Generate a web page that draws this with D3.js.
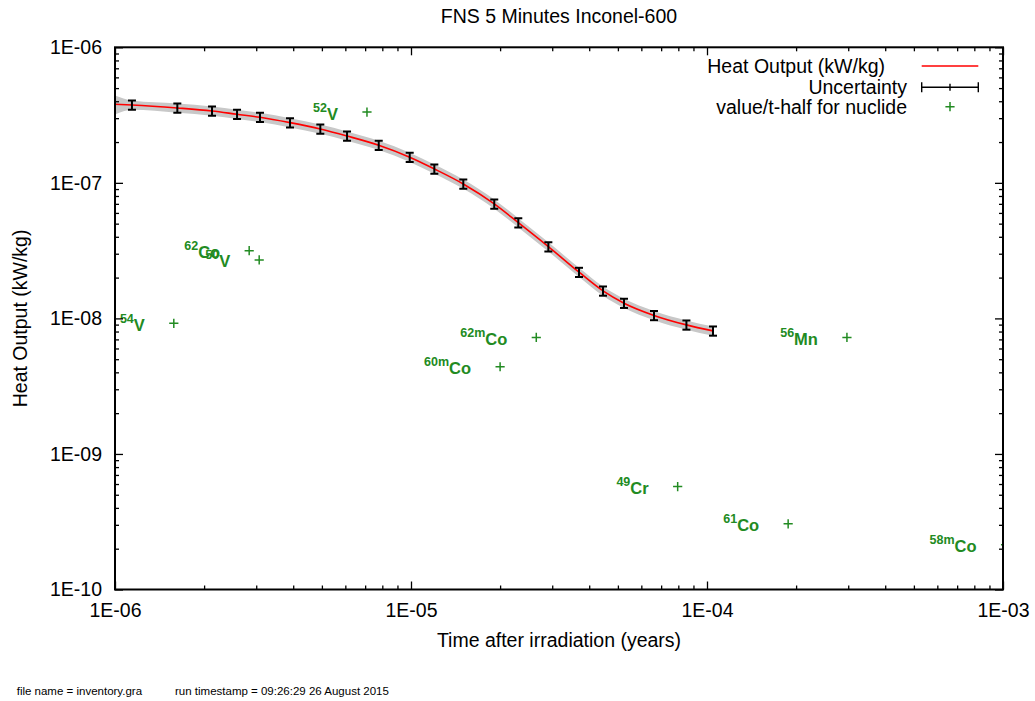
<!DOCTYPE html>
<html>
<head>
<meta charset="utf-8">
<script src="https://cdn.jsdelivr.net/npm/d3@7"></script>
<style>
  html, body { margin: 0; padding: 0; background: #fff; }
  svg { display: block; font-family: "Liberation Sans", Arial, Helvetica, sans-serif; }
</style>
</head>
<body>
<svg id="chart" width="1035" height="701"></svg>
<script>
// ---- data ----
const times = [1.0e-6, 1.141e-6, 1.624e-6, 2.127e-6, 2.584e-6, 3.089e-6, 3.902e-6, 4.939e-6, 6.08e-6, 7.78e-6, 9.9e-6,
               1.199e-5, 1.502e-5, 1.911e-5, 2.304e-5, 2.911e-5, 3.695e-5, 4.453e-5, 5.244e-5, 6.62e-5, 8.52e-5, 1.048e-4];
const heat = [3.80e-7, 3.754e-7, 3.568e-7, 3.39e-7, 3.206e-7, 3.046e-7, 2.78e-7, 2.497e-7, 2.217e-7, 1.894e-7, 1.545e-7,
              1.266e-7, 9.81e-8, 6.99e-8, 5.087e-8, 3.384e-8, 2.191e-8, 1.595e-8, 1.295e-8, 1.052e-8, 8.956e-9, 8.087e-9];
const uncertainty = [0.16, 0.078, 0.078, 0.078, 0.078, 0.078, 0.078, 0.078, 0.078, 0.078, 0.078,
                     0.078, 0.078, 0.078, 0.078, 0.078, 0.078, 0.078, 0.078, 0.078, 0.078, 0.078];

const nuclideMass  = ["54", "62", "50", "52", "62m", "60m", "56", "49", "61", "58m"];
const nuclideElem  = ["V", "Co", "V", "V", "Co", "Co", "Mn", "Cr", "Co", "Co"];
const nuclideTime  = [1.58e-6, 2.84e-6, 3.07e-6, 7.10e-6, 2.65e-5, 2.00e-5, 2.97e-4, 7.96e-5, 1.88e-4, 1.02e-3];
const nuclideValue = [9.2e-9, 3.16e-8, 2.70e-8, 3.33e-7, 7.24e-9, 4.4e-9, 7.24e-9, 5.75e-10, 3.05e-10, 2.14e-10];

const xTickValues = [1e-6, 1e-5, 1e-4, 1e-3];
const xTickLabels = ["1E-06", "1E-05", "1E-04", "1E-03"];
const yTickValues = [1e-10, 1e-9, 1e-8, 1e-7, 1e-6];
const yTickLabels = ["1E-10", "1E-09", "1E-08", "1E-07", "1E-06"];

const title = "FNS 5 Minutes Inconel-600";
const xTitle = "Time after irradiation (years)";
const yTitle = "Heat Output (kW/kg)";
const legendLabels = ["Heat Output (kW/kg)", "Uncertainty", "value/t-half for nuclide"];
const footer1 = "file name = inventory.gra";
const footer2 = "run timestamp = 09:26:29 26 August 2015";

// ---- layout ----
const L = 115, R = 1003, T = 47.3, B = 589.5;
const FS = 19.5;
const GREEN = "#228b22";

const svg = d3.select("#chart");
const x = d3.scaleLog().domain([1e-6, 1e-3]).range([L, R]);
const y = d3.scaleLog().domain([1e-10, 1e-6]).range([B, T]);

const data = times.map((t, i) => ({ t, v: heat[i], u: uncertainty[i] }));

// clip
svg.append("defs").append("clipPath").attr("id", "plotClip")
  .append("rect").attr("x", L).attr("y", T).attr("width", R - L).attr("height", B - T);

const plot = svg.append("g").attr("clip-path", "url(#plotClip)");

// uncertainty band
plot.append("path")
  .datum(data)
  .attr("fill", "#c8c8c8")
  .attr("stroke", "none")
  .attr("d", d3.area()
    .x(d => x(d.t))
    .y0(d => y(d.v * (1 - d.u)))
    .y1(d => y(d.v * (1 + d.u)))
    .curve(d3.curveMonotoneX));

// heat line
plot.append("path")
  .datum(data)
  .attr("fill", "none")
  .attr("stroke", "#ff0000")
  .attr("stroke-width", 1.6)
  .attr("d", d3.line().x(d => x(d.t)).y(d => y(d.v)).curve(d3.curveMonotoneX));

// error bars (the point on the left border has none)
const bars = plot.append("g").attr("stroke", "#000").attr("stroke-width", 2)
  .selectAll("g").data(data.filter(d => d.t > x.domain()[0])).join("g");
bars.append("line")
  .attr("x1", d => x(d.t)).attr("x2", d => x(d.t))
  .attr("y1", d => y(d.v * (1 - d.u))).attr("y2", d => y(d.v * (1 + d.u)));
bars.append("line")
  .attr("x1", d => x(d.t) - 4).attr("x2", d => x(d.t) + 4)
  .attr("y1", d => y(d.v * (1 - d.u))).attr("y2", d => y(d.v * (1 - d.u)));
bars.append("line")
  .attr("x1", d => x(d.t) - 4).attr("x2", d => x(d.t) + 4)
  .attr("y1", d => y(d.v * (1 + d.u))).attr("y2", d => y(d.v * (1 + d.u)));

// nuclide markers
const nuc = nuclideTime.map((t, i) => ({ t, v: nuclideValue[i], m: nuclideMass[i], e: nuclideElem[i] }));
plot.append("g").selectAll("path").data(nuc).join("path")
  .attr("fill", "none").attr("stroke", GREEN).attr("stroke-width", 1.5)
  .attr("d", d => {
    const px = x(d.t), py = y(d.v);
    return `M${px - 4.6},${py}H${px + 4.6}M${px},${py - 4.6}V${py + 4.6}`;
  });

// nuclide labels (not clipped)
const lab = svg.append("g").selectAll("text").data(nuc).join("text")
  .attr("x", d => x(d.t) - 29)
  .attr("y", d => y(d.v) + 7.5)
  .attr("text-anchor", "end")
  .attr("fill", GREEN)
  .attr("font-weight", "bold");
lab.append("tspan").attr("font-size", 12.5).attr("dy", -8).text(d => d.m);
lab.append("tspan").attr("font-size", 16.5).attr("dy", 8).text(d => d.e);

// ---- axes ----
function minorTicks(domain) {
  const out = [];
  for (let e = Math.round(Math.log10(domain[0])); e < Math.round(Math.log10(domain[1])); e++) {
    for (let k = 2; k <= 9; k++) out.push(k * Math.pow(10, e));
  }
  return out;
}
const xMinor = minorTicks(x.domain());
const yMinor = minorTicks(y.domain());

function styleAxis(g) {
  g.select(".domain").remove();
  g.selectAll(".tick line").attr("stroke", "#000").attr("stroke-width", 1.3);
  g.selectAll("text").attr("font-size", FS).attr("fill", "#000").attr("font-family", "Liberation Sans, Arial, sans-serif");
}

// bottom
svg.append("g").attr("transform", `translate(0,${B})`)
  .call(d3.axisBottom(x).tickValues(xTickValues).tickSize(-8).tickPadding(13.3)
    .tickFormat((d, i) => xTickLabels[i])).call(styleAxis);
svg.append("g").attr("transform", `translate(0,${B})`)
  .call(d3.axisBottom(x).tickValues(xMinor).tickSize(-4).tickFormat("")).call(styleAxis);
// top
svg.append("g").attr("transform", `translate(0,${T})`)
  .call(d3.axisTop(x).tickValues(xTickValues).tickSize(-8).tickFormat("")).call(styleAxis);
svg.append("g").attr("transform", `translate(0,${T})`)
  .call(d3.axisTop(x).tickValues(xMinor).tickSize(-4).tickFormat("")).call(styleAxis);
// left
svg.append("g").attr("transform", `translate(${L},0)`)
  .call(d3.axisLeft(y).tickValues(yTickValues).tickSize(-8).tickPadding(13)
    .tickFormat((d, i) => yTickLabels[i])).call(styleAxis);
svg.append("g").attr("transform", `translate(${L},0)`)
  .call(d3.axisLeft(y).tickValues(yMinor).tickSize(-4).tickFormat("")).call(styleAxis);
// right
svg.append("g").attr("transform", `translate(${R},0)`)
  .call(d3.axisRight(y).tickValues(yTickValues).tickSize(-8).tickFormat("")).call(styleAxis);
svg.append("g").attr("transform", `translate(${R},0)`)
  .call(d3.axisRight(y).tickValues(yMinor).tickSize(-4).tickFormat("")).call(styleAxis);

// border
svg.append("rect").attr("x", L).attr("y", T).attr("width", R - L).attr("height", B - T)
  .attr("fill", "none").attr("stroke", "#000").attr("stroke-width", 2);

// ---- titles ----
svg.append("text").attr("x", (L + R) / 2).attr("y", 23).attr("text-anchor", "middle")
  .attr("font-size", FS).text(title);
svg.append("text").attr("x", (L + R) / 2).attr("y", 647).attr("text-anchor", "middle")
  .attr("font-size", FS).text(xTitle);
svg.append("text").attr("transform", `translate(27,${(T + B) / 2}) rotate(-90)`)
  .attr("text-anchor", "middle").attr("font-size", FS).text(yTitle);

// ---- legend ----
const leg = svg.append("g");
const legRows = [66, 87.3, 106.7];
const legTextEnd = [885, 907, 907];
legendLabels.forEach((s, i) => {
  leg.append("text").attr("x", legTextEnd[i]).attr("y", legRows[i]).attr("dy", "0.35em")
    .attr("text-anchor", "end").attr("font-size", FS).text(s);
});
leg.append("line").attr("x1", 921.7).attr("x2", 978.3).attr("y1", legRows[0]).attr("y2", legRows[0])
  .attr("stroke", "#ff0000").attr("stroke-width", 1.6);
const lu = leg.append("g").attr("stroke", "#000").attr("stroke-width", 1.4);
lu.append("line").attr("x1", 921.7).attr("x2", 978.3).attr("y1", legRows[1]).attr("y2", legRows[1]);
lu.append("line").attr("x1", 921.7).attr("x2", 921.7).attr("y1", legRows[1] - 5).attr("y2", legRows[1] + 5);
lu.append("line").attr("x1", 978.3).attr("x2", 978.3).attr("y1", legRows[1] - 5).attr("y2", legRows[1] + 5);
lu.append("line").attr("x1", 950).attr("x2", 950).attr("y1", legRows[1] - 3.5).attr("y2", legRows[1] + 3.5);
leg.append("path").attr("fill", "none").attr("stroke", GREEN).attr("stroke-width", 1.5)
  .attr("d", `M${950 - 4.6},${legRows[2]}H${950 + 4.6}M950,${legRows[2] - 4.6}V${legRows[2] + 4.6}`);

// ---- footer ----
svg.append("text").attr("x", 16.7).attr("y", 695).attr("font-size", 11.5).text(footer1);
svg.append("text").attr("x", 175).attr("y", 695).attr("font-size", 11.5).text(footer2);
</script>
</body>
</html>
